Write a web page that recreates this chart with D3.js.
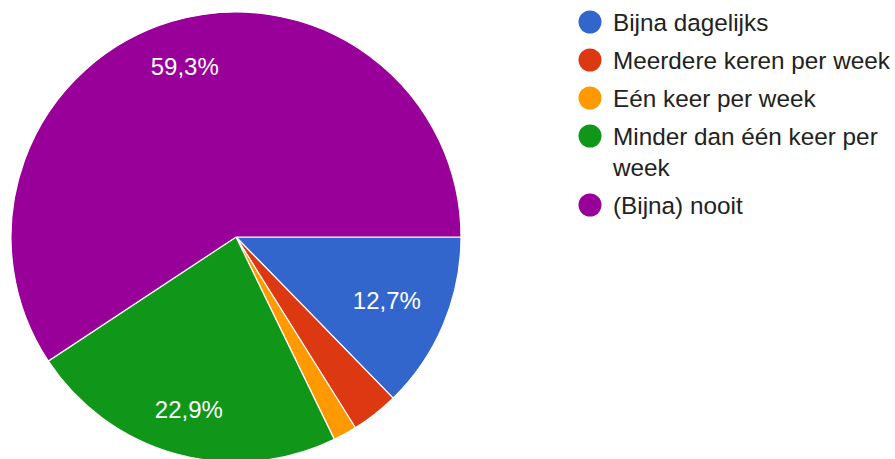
<!DOCTYPE html>
<html>
<head>
<meta charset="utf-8">
<script src="https://cdn.jsdelivr.net/npm/d3@7"></script>
<style>
  body { margin: 0; background: #fff; }
  text { font-family: "Liberation Sans", Arial, sans-serif; }
</style>
</head>
<body>
<svg id="chart" width="895" height="459"></svg>
<script>
// answer categories and share of respondents (%)
var categories = ["Bijna dagelijks", "Meerdere keren per week", "Eén keer per week", "Minder dan één keer per week", "(Bijna) nooit"];
var values = [12.7, 3.4, 1.7, 22.9, 59.3];
var colors = ["#3366cc", "#dc3912", "#ff9900", "#109618", "#990099"];

var svg = d3.select("#chart");
var cx = 236, cy = 237, radius = 225;

var data = categories.map(function(c, i) { return {name: c, value: values[i]}; });

var pie = d3.pie()
  .value(function(d) { return d.value; })
  .sort(null)
  .startAngle(Math.PI / 2)
  .endAngle(Math.PI / 2 + 2 * Math.PI);

var arc = d3.arc().innerRadius(0).outerRadius(radius);

var color = d3.scaleOrdinal().domain(categories).range(colors);

var g = svg.append("g").attr("transform", "translate(" + cx + "," + cy + ")");

var arcs = pie(data);

g.selectAll("path")
  .data(arcs)
  .enter().append("path")
  .attr("d", arc)
  .attr("fill", function(d) { return color(d.data.name); })
  .attr("stroke", "#fff")
  .attr("stroke-width", 1.2);

// label position: pull wide text boxes in a bit when they sit near the left/right edge
function labelPos(d) {
  var a = (d.startAngle + d.endAngle) / 2;
  var r = radius * (0.82 - 0.1 * Math.abs(Math.sin(a)));
  return [Math.sin(a) * r, -Math.cos(a) * r];
}

// only label slices that are big enough
g.selectAll("text.lbl")
  .data(arcs.filter(function(d) { return d.data.value > 5; }))
  .enter().append("text")
  .attr("class", "lbl")
  .attr("transform", function(d) { return "translate(" + labelPos(d) + ")"; })
  .attr("text-anchor", "middle")
  .attr("dy", ".35em")
  .attr("fill", "#fff")
  .style("font-size", "24px")
  .text(function(d) { return d.data.value.toFixed(1).replace(".", ",") + "%"; });

// legend
var legend = svg.append("g").attr("transform", "translate(590,0)");
var maxW = 290, lineH = 31, rowGap = 38;
var y = 22;

data.forEach(function(d) {
  var row = legend.append("g");
  row.append("circle")
    .attr("cx", 0)
    .attr("cy", y)
    .attr("r", 11.5)
    .attr("fill", color(d.name));

  var words = d.name.split(" ");
  var line = [];
  var ly = y;
  var t = row.append("text")
    .attr("fill", "#222").style("font-size", "24.3px");
  var tspan = t.append("tspan").attr("x", 23).attr("y", ly).attr("dy", ".35em");
  words.forEach(function(w) {
    line.push(w);
    tspan.text(line.join(" "));
    if (tspan.node().getComputedTextLength() > maxW && line.length > 1) {
      line.pop();
      tspan.text(line.join(" "));
      line = [w];
      ly += lineH;
      tspan = t.append("tspan").attr("x", 23).attr("y", ly).attr("dy", ".35em").text(w);
    }
  });
  y = ly + rowGap;
});
</script>
</body>
</html>
